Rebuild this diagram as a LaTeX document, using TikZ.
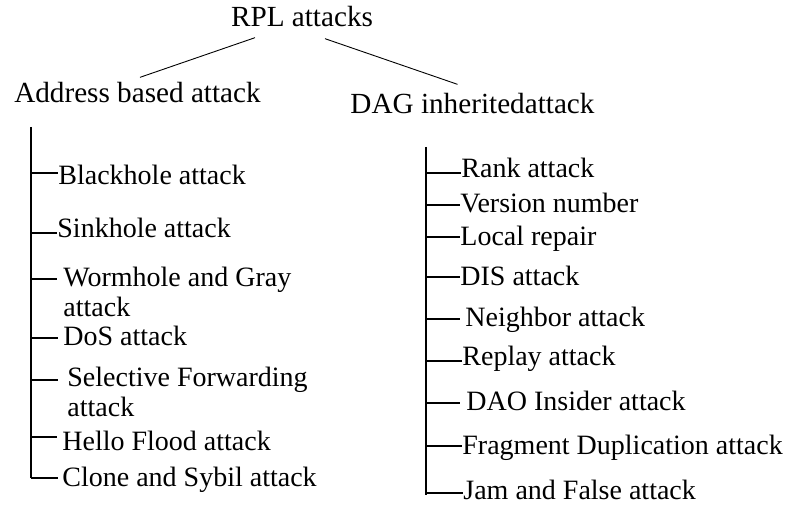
\documentclass[tikz,border=0pt]{standalone}
\usepackage{fontspec}
\setmainfont{Liberation Serif}
\usepackage{tikz}

\tikzset{
  heading/.style={inner sep=0pt, anchor=base, font=\fontsize{14.6}{16}\selectfont},
  leaf/.style={inner sep=0pt, anchor=base west, font=\fontsize{14}{15}\selectfont},
  branch/.style={line width=0.65pt},
  link/.style={line width=0.45pt}
}

\begin{document}
\begin{tikzpicture}[x=0.5pt, y=-0.5pt]

    \useasboundingbox (0,0) rectangle (788,506);

    % Headings
    \node[heading] (rpl) at (302, 27) {RPL attacks};
    \node[heading] (addr) at (137.5, 103) {Address based attack};
    \node[heading] (dag) at (472.5, 114) {DAG inheritedattack};

    \draw[link] ([shift={(-47,10)}]rpl.south) -- ([shift={(2.5,-5)}]addr.north);
    \draw[link] ([shift={(23,11)}]rpl.south) -- ([shift={(-15,-9)}]dag.north);

    % --------------------
    % Address based attacks
    % --------------------

    \coordinate (ltop) at (31, 127);
    \coordinate (lbot) at (31, 478);

    \node[leaf] (black) at (58, 185) {Blackhole attack};
    \node[leaf] (sink) at (57, 238) {Sinkhole attack};
    \node[leaf] (worm) at (63, 287) {Wormhole and Gray};
    \node[leaf] (worm2) at (63, 317) {attack};
    \node[leaf] (dos) at (63, 346) {DoS attack};
    \node[leaf] (selfwd) at (67, 387) {Selective Forwarding};
    \node[leaf] (selfwd2) at (67, 417) {attack};
    \node[leaf] (hello) at (62, 451) {Hello Flood attack};
    \node[leaf] (clone) at (62, 487) {Clone and Sybil attack};

    \draw[branch] (ltop) -- (lbot);
    \draw[branch] ([yshift=6pt]ltop |- black.base west) -- ([yshift=6pt]black.base west);
    \draw[branch] ([yshift=2.5pt]ltop |- sink.base west) -- ([yshift=2.5pt]sink.base west);
    \draw[branch] ([yshift=4pt]ltop |- worm.base west) -- ([xshift=-3pt, yshift=4pt]worm.base west);
    \draw[branch] ([yshift=4pt]ltop |- dos.base west) -- ([xshift=-2.5pt, yshift=4pt]dos.base west);
    \draw[branch] ([yshift=3.5pt]ltop |- selfwd.base west) -- ([xshift=-4.5pt, yshift=3.5pt]selfwd.base west);
    \draw[branch] ([yshift=7pt]ltop |- hello.base west) -- ([xshift=-2.5pt, yshift=7pt]hello.base west);
    \draw[branch] ([yshift=4.5pt]ltop |- clone.base west) -- ([xshift=-2pt, yshift=4.5pt]clone.base west);

    % --------------------
    % DAG inherited attacks
    % --------------------

    \coordinate (rtop) at (426, 147);
    \coordinate (rbot) at (426, 495);

    \node[leaf] (rank) at (461, 178) {Rank attack};
    \node[leaf] (version) at (460, 213) {Version number};
    \node[leaf] (repair) at (460, 246) {Local repair};
    \node[leaf] (dis) at (460, 286) {DIS attack};
    \node[leaf] (neigh) at (465, 327) {Neighbor attack};
    \node[leaf] (replay) at (462, 366) {Replay attack};
    \node[leaf] (dao) at (466, 411) {DAO Insider attack};
    \node[leaf] (frag) at (462, 455) {Fragment Duplication attack};
    \node[leaf] (jam) at (463, 500) {Jam and False attack};

    \draw[branch] (rtop) -- (rbot);
    \draw[branch] ([yshift=2.5pt]rtop |- rank.base west) -- ([yshift=2.5pt]rank.base west);
    \draw[branch] ([yshift=4pt]rtop |- version.base west) -- ([yshift=4pt]version.base west);
    \draw[branch] ([yshift=4.5pt]rtop |- repair.base west) -- ([yshift=4.5pt]repair.base west);
    \draw[branch] ([yshift=4.5pt]rtop |- dis.base west) -- ([yshift=4.5pt]dis.base west);
    \draw[branch] ([yshift=4pt]rtop |- neigh.base west) -- ([xshift=-2.5pt, yshift=4pt]neigh.base west);
    \draw[branch] ([yshift=2.5pt]rtop |- replay.base west) -- ([yshift=2.5pt]replay.base west);
    \draw[branch] ([yshift=4pt]rtop |- dao.base west) -- ([xshift=-3pt, yshift=4pt]dao.base west);
    \draw[branch] ([yshift=4.5pt]rtop |- frag.base west) -- ([yshift=4.5pt]frag.base west);
    \draw[branch] ([yshift=3.5pt]rtop |- jam.base west) -- ([yshift=3.5pt]jam.base west);

  \end{tikzpicture}
\end{document}
